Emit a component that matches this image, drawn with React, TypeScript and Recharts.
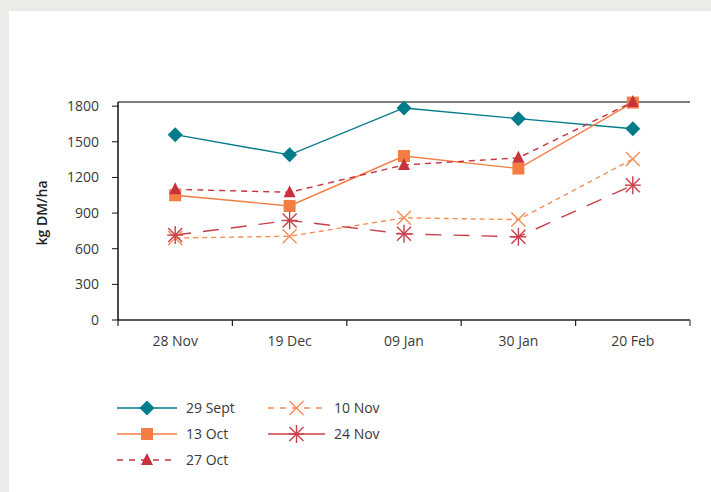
import { LineChart, Line, XAxis, YAxis, CartesianGrid, Label } from 'recharts';

const categories = ['28 Nov', '19 Dec', '09 Jan', '30 Jan', '20 Feb'];
const yTicks = [0, 300, 600, 900, 1200, 1500, 1800];

const sept29 = [1560, 1390, 1785, 1695, 1610];
const oct13 = [1050, 960, 1380, 1275, 1830];
const oct27 = [1100, 1075, 1305, 1365, 1835];
const nov10 = [690, 705, 860, 845, 1355];
const nov24 = [715, 838, 725, 700, 1135];

const data = categories.map((c, i) => ({
  date: c,
  sept29: sept29[i],
  oct13: oct13[i],
  oct27: oct27[i],
  nov10: nov10[i],
  nov24: nov24[i],
}));

const FONT = '"Open Sans", "Noto Sans", sans-serif';
const TEXT = '#3a3a3a';
const HALF_BAND = 57.2;

type Shape = 'diamond' | 'square' | 'triangle' | 'cross' | 'star';

const SERIES: { key: string; name: string; color: string; dash?: string; legendDash?: string; shape: Shape }[] = [
  { key: 'sept29', name: '29 Sept', color: '#027b8b', shape: 'diamond' },
  { key: 'oct13', name: '13 Oct', color: '#f47d43', shape: 'square' },
  { key: 'oct27', name: '27 Oct', color: '#c7323d', dash: '6 5', legendDash: '6 6', shape: 'triangle' },
  { key: 'nov10', name: '10 Nov', color: '#f68d55', dash: '5 4', legendDash: '6 6', shape: 'cross' },
  { key: 'nov24', name: '24 Nov', color: '#c8404a', dash: '16 12', shape: 'star' },
];

function Marker({ cx, cy, shape, color }: { cx: number; cy: number; shape: Shape; color: string }) {
  if (shape === 'diamond') {
    return <path d={`M${cx},${cy - 7.5}L${cx + 7.5},${cy}L${cx},${cy + 7.5}L${cx - 7.5},${cy}Z`} fill={color} />;
  }
  if (shape === 'square') {
    return <rect x={cx - 6} y={cy - 6} width={12} height={12} fill={color} />;
  }
  if (shape === 'triangle') {
    return <path d={`M${cx},${cy - 7}L${cx + 6},${cy + 5}L${cx - 6},${cy + 5}Z`} fill={color} />;
  }
  if (shape === 'cross') {
    return (
      <g stroke={color} strokeWidth={1.4}>
        <line x1={cx - 7} y1={cy - 7} x2={cx + 7} y2={cy + 7} />
        <line x1={cx - 7} y1={cy + 7} x2={cx + 7} y2={cy - 7} />
      </g>
    );
  }
  return (
    <g stroke={color} strokeWidth={1.4}>
      <line x1={cx - 7} y1={cy - 7} x2={cx + 7} y2={cy + 7} />
      <line x1={cx - 7} y1={cy + 7} x2={cx + 7} y2={cy - 7} />
      <line x1={cx} y1={cy - 9} x2={cx} y2={cy + 9} />
      <line x1={cx - 8} y1={cy} x2={cx + 8} y2={cy} />
    </g>
  );
}

function XTick(props: any) {
  const { x, y, payload, index } = props;
  const last = index === categories.length - 1;
  return (
    <g>
      <line x1={x - HALF_BAND} y1={y} x2={x - HALF_BAND} y2={y + 6} stroke="#222" strokeWidth={1.2} />
      {last && <line x1={x + HALF_BAND} y1={y} x2={x + HALF_BAND} y2={y + 6} stroke="#666" strokeWidth={1.5} />}
      <text x={x} y={y + 26} textAnchor="middle" fill={TEXT} fontSize={14} fontFamily={FONT}>
        {payload.value}
      </text>
    </g>
  );
}

const legendPos = [
  { x: 117, y: 408 },
  { x: 117, y: 434 },
  { x: 117, y: 460 },
  { x: 268, y: 408 },
  { x: 268, y: 434 },
];

function ChartLegend() {
  return (
    <svg width={400} height={90} style={{ position: 'absolute', left: 0, top: 390 }}>
      {SERIES.map((s, i) => {
        const p = legendPos[i];
        const w = i < 3 ? 60 : 57;
        const y = p.y - 390;
        return (
          <g key={s.key}>
            <line x1={p.x} y1={y} x2={p.x + w} y2={y} stroke={s.color} strokeWidth={1.5} strokeDasharray={s.legendDash} />
            <Marker cx={p.x + w / 2} cy={y} shape={s.shape} color={s.color} />
            <text x={p.x + w + 9} y={y + 5} fill={TEXT} fontSize={14} fontFamily={FONT}>
              {s.name}
            </text>
          </g>
        );
      })}
    </svg>
  );
}

export default function App() {
  return (
    <div style={{ position: 'absolute', left: 0, top: 0, width: 711, height: 492, background: '#edebe7', overflow: 'hidden' }}>
      <div style={{ position: 'absolute', left: 9, top: 11, width: 702, height: 481, background: '#fff' }} />
      <div style={{ position: 'absolute', left: 0, top: 0 }}>
        <LineChart width={711} height={492} data={data} margin={{ top: 102, right: 21, bottom: 142, left: 58 }}>
          <CartesianGrid vertical={false} stroke="#555" strokeWidth={1.5} />
          <XAxis
            dataKey="date"
            tick={<XTick />}
            tickLine={false}
            tickSize={0}
            tickMargin={0}
            axisLine={{ stroke: '#333', strokeWidth: 1.2 }}
            height={30}
            interval={0}
            padding={{ left: HALF_BAND, right: HALF_BAND }}
          />
          <YAxis
            yAxisId="left"
            domain={[0, 1800]}
            ticks={yTicks}
            width={60}
            tickSize={6}
            tickMargin={13}
            axisLine={{ stroke: '#111', strokeWidth: 1.5 }}
            tickLine={{ stroke: '#111' }}
            tick={{ fill: TEXT, fontSize: 14, fontFamily: FONT }}
          >
            <Label
              content={() => (
                <text
                  x={47}
                  y={213}
                  transform="rotate(-90 47 213)"
                  textAnchor="middle"
                  fill="#222"
                  fontSize={14}
                  fontWeight={600}
                  fontFamily={FONT}
                >
                  kg DM/ha
                </text>
              )}
            />
          </YAxis>
          <YAxis
            yAxisId="right"
            orientation="right"
            domain={[0, 1800]}
            width={0}
            tick={false}
            tickLine={false}
            axisLine={{ stroke: '#666', strokeWidth: 1.5 }}
          />
          {SERIES.map((s) => (
            <Line
              key={s.key}
              yAxisId="left"
              dataKey={s.key}
              name={s.name}
              stroke={s.color}
              strokeWidth={1.4}
              strokeDasharray={s.dash}
              isAnimationActive={false}
              dot={(p: any) => <Marker key={`${s.key}-${p.index}`} cx={p.cx} cy={p.cy} shape={s.shape} color={s.color} />}
              activeDot={false}
            />
          ))}
        </LineChart>
      </div>
      <ChartLegend />
    </div>
  );
}
